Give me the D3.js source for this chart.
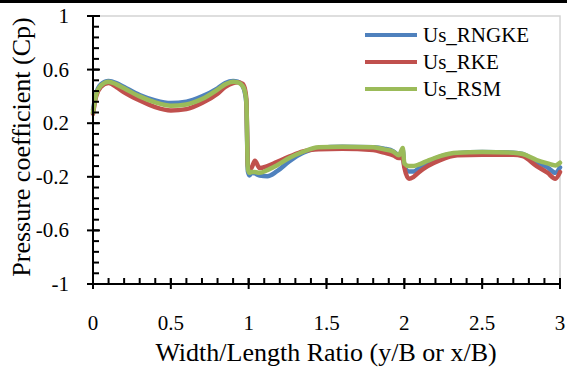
<!DOCTYPE html>
<html>
<head>
<meta charset="utf-8">
<script src="https://cdn.jsdelivr.net/npm/d3@7/dist/d3.min.js"></script>
</head>
<body style="margin:0">
<svg id="chart" width="567" height="371"></svg>
<script>
// Width/Length ratio stations (y/B or x/B)
const ratio = [0, 0.02, 0.05, 0.1, 0.15, 0.2, 0.3, 0.4, 0.5, 0.6, 0.7, 0.8,
  0.85, 0.9, 0.93, 0.96, 0.975, 0.985, 0.995, 1.005, 1.02, 1.04, 1.07, 1.12,
  1.18, 1.26, 1.35, 1.45, 1.6, 1.8, 1.87, 1.93, 1.965, 1.99, 2.0, 2.03,
  2.06, 2.1, 2.15, 2.23, 2.34, 2.5, 2.7, 2.76, 2.85, 2.92, 2.97, 3.0];

// Pressure coefficient per turbulence model
const cpRNGKE = [0.30, 0.42, 0.49, 0.515, 0.50, 0.47, 0.41, 0.37, 0.35, 0.36, 0.40, 0.46,
  0.50, 0.515, 0.51, 0.48, 0.43, 0.35, -0.16, -0.19, -0.17, -0.175, -0.19, -0.195,
  -0.16, -0.085, -0.02, 0.015, 0.025, 0.02, 0.01, -0.01, -0.04, 0.0, -0.12, -0.16,
  -0.16, -0.13, -0.09, -0.05, -0.025, -0.015, -0.02, -0.03, -0.09, -0.13, -0.17, -0.13];

const cpRKE = [0.27, 0.40, 0.47, 0.50, 0.47, 0.43, 0.37, 0.32, 0.295, 0.305, 0.35, 0.42,
  0.47, 0.50, 0.505, 0.495, 0.46, 0.38, -0.12, -0.15, -0.13, -0.08, -0.135, -0.12,
  -0.09, -0.05, -0.01, 0.005, 0.01, 0.0, -0.02, -0.04, -0.06, -0.06, -0.13, -0.215,
  -0.20, -0.16, -0.12, -0.075, -0.04, -0.035, -0.035, -0.045, -0.12, -0.17, -0.215, -0.165];

const cpRSM = [0.28, 0.41, 0.48, 0.51, 0.49, 0.46, 0.40, 0.355, 0.33, 0.34, 0.38, 0.45,
  0.49, 0.51, 0.505, 0.48, 0.44, 0.36, -0.14, -0.17, -0.165, -0.165, -0.17, -0.15,
  -0.115, -0.06, -0.013, 0.02, 0.025, 0.02, 0.005, -0.013, -0.04, 0.015, -0.1, -0.12,
  -0.12, -0.105, -0.08, -0.045, -0.02, -0.015, -0.02, -0.03, -0.075, -0.1, -0.115, -0.095];

const seriesNames = ["Us_RNGKE", "Us_RKE", "Us_RSM"];
const seriesColors = ["#4F81BD", "#C0504D", "#9BBB59"];
const seriesValues = [cpRNGKE, cpRKE, cpRSM];

const xTicks = [0, 0.5, 1, 1.5, 2, 2.5, 3];
const yTicks = [-1, -0.6, -0.2, 0.2, 0.6, 1];

const svg = d3.select("#chart");
const W = 567, H = 371;
const plot = { left: 93, right: 560, top: 16, bottom: 284 };
const fmt = v => String(v); // plain hyphen-minus labels

const x = d3.scaleLinear().domain([0, 3]).range([plot.left, plot.right]);
const y = d3.scaleLinear().domain([-1, 1]).range([plot.bottom, plot.top]);

// page rule across the top
svg.append("rect").attr("x", 0).attr("y", 0).attr("width", W).attr("height", 3).attr("fill", "#000");

// plot-area frame
svg.append("rect")
  .attr("x", plot.left).attr("y", plot.top)
  .attr("width", plot.right - plot.left).attr("height", plot.bottom - plot.top)
  .attr("fill", "none").attr("stroke", "#d4d4d4").attr("stroke-width", 1.5);

// series lines
const line = d3.line()
  .x(d => x(d[0]))
  .y(d => y(d[1]))
  .curve(d3.curveMonotoneX);

seriesValues.forEach((vals, i) => {
  svg.append("path")
    .datum(ratio.map((r, k) => [r, vals[k]]))
    .attr("fill", "none")
    .attr("stroke", seriesColors[i])
    .attr("stroke-width", 4.5)
    .attr("stroke-linejoin", "round")
    .attr("stroke-linecap", "round")
    .attr("d", line);
});

// minor ticks
const xMinor = d3.range(0, 31).map(i => i / 10);
const yMinor = d3.range(0, 26).map(i => -1 + i * 0.08);

const axisG = svg.append("g").attr("stroke", "#000");

axisG.selectAll(".xminor").data(xMinor).enter().append("line")
  .attr("x1", d => x(d)).attr("x2", d => x(d))
  .attr("y1", plot.bottom).attr("y2", plot.bottom - 6)
  .attr("stroke-width", 2);

axisG.selectAll(".yminor").data(yMinor).enter().append("line")
  .attr("x1", plot.left).attr("x2", plot.left + 6)
  .attr("y1", d => y(d)).attr("y2", d => y(d))
  .attr("stroke-width", 2);

// major ticks cross the axes
axisG.selectAll(".xmajor").data(xTicks).enter().append("line")
  .attr("x1", d => x(d)).attr("x2", d => x(d))
  .attr("y1", plot.bottom - 6).attr("y2", plot.bottom + 5)
  .attr("stroke-width", 2);

axisG.selectAll(".ymajor").data(yTicks).enter().append("line")
  .attr("x1", plot.left - 6).attr("x2", plot.left + 7)
  .attr("y1", d => y(d)).attr("y2", d => y(d))
  .attr("stroke-width", 2);

// axis lines
axisG.append("line")
  .attr("x1", plot.left).attr("x2", plot.right)
  .attr("y1", plot.bottom).attr("y2", plot.bottom).attr("stroke-width", 2);
axisG.append("line")
  .attr("x1", plot.left).attr("x2", plot.left)
  .attr("y1", plot.top).attr("y2", plot.bottom).attr("stroke-width", 2);

// all labels share one serif face
const textG = svg.append("g").attr("font-family", "Times New Roman").attr("fill", "#000");

// tick labels
textG.selectAll(".xlab").data(xTicks).enter().append("text")
  .attr("font-family", "Times New Roman")
  .attr("x", d => x(d)).attr("y", 330)
  .attr("text-anchor", "middle").attr("font-size", 21)
  .text(fmt);

textG.selectAll(".ylab").data(yTicks).enter().append("text")
  .attr("font-family", "Times New Roman")
  .attr("x", 69).attr("y", d => y(d) + 7)
  .attr("text-anchor", "end").attr("font-size", 21)
  .text(fmt);

// axis titles
textG.append("text")
  .attr("font-family", "Times New Roman")
  .attr("x", (152 + 500) / 2).attr("y", 361)
  .attr("text-anchor", "middle").attr("font-size", 26)
  .text("Width/Length Ratio (y/B or x/B)");

textG.append("text")
  .attr("font-family", "Times New Roman")
  .attr("transform", "translate(30,147) rotate(-90)")
  .attr("text-anchor", "middle").attr("font-size", 26)
  .text("Pressure coefficient (Cp)");

// legend
seriesNames.forEach((name, i) => {
  const ly = 35 + i * 27;
  svg.append("line")
    .attr("x1", 365).attr("x2", 417).attr("y1", ly).attr("y2", ly)
    .attr("stroke", seriesColors[i]).attr("stroke-width", 4);
  textG.append("text")
    .attr("font-family", "Times New Roman")
    .attr("x", 423).attr("y", ly + 7).attr("font-size", 21)
    .text(name);
});
</script>
</body>
</html>
